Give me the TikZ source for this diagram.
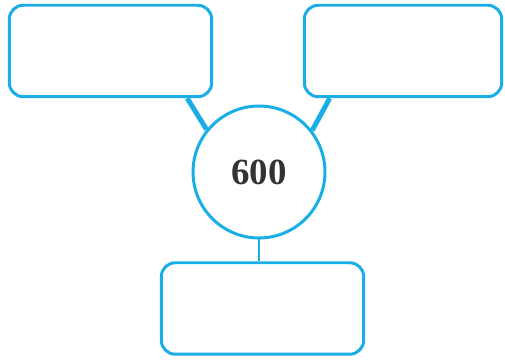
\documentclass[tikz,border=0pt]{standalone}
\usepackage{fontspec}
\setmainfont{Liberation Serif}
\usepackage{tikz}
\usetikzlibrary{positioning, calc}
\definecolor{Sky}{HTML}{1AAEE6}
\definecolor{Ink}{HTML}{333333}

\begin{document}
\begin{tikzpicture}[
      x=0.02cm, y=-0.02cm,
      box/.style={
        draw=Sky, line width=1.7pt, rounded corners=8pt,
        minimum width=4.05cm, minimum height=1.83cm, fill=white
      },
      hub/.style={
        circle, draw=Sky, line width=1.7pt, minimum size=2.64cm,
        fill=white, text=Ink, font=\fontsize{21}{24}\selectfont\bfseries
      },
      link/.style={draw=Sky, line width=2.8pt},
      stem/.style={draw=Sky, line width=1.7pt}
    ]
      \useasboundingbox (0,0) rectangle (505,361);
      \node[box] (left)  at (110.5,51) {};
      \node[box, minimum width=3.95cm] (right) at (403,51) {};
      \node[box] (bottom) at (262.5,308.5) {};
      \node[hub] (hub) at (259,172) {600};
      \coordinate (lfoot) at ([xshift=-0.52cm]left.south east);
      \coordinate (rfoot) at ([xshift=0.54cm]right.south west);
      \draw[link] (lfoot) -- (hub.141);
      \draw[link] (rfoot) -- (hub.38);
      \draw[stem] (hub.south) -- (hub.south |- bottom.north);
    \end{tikzpicture}
\end{document}
